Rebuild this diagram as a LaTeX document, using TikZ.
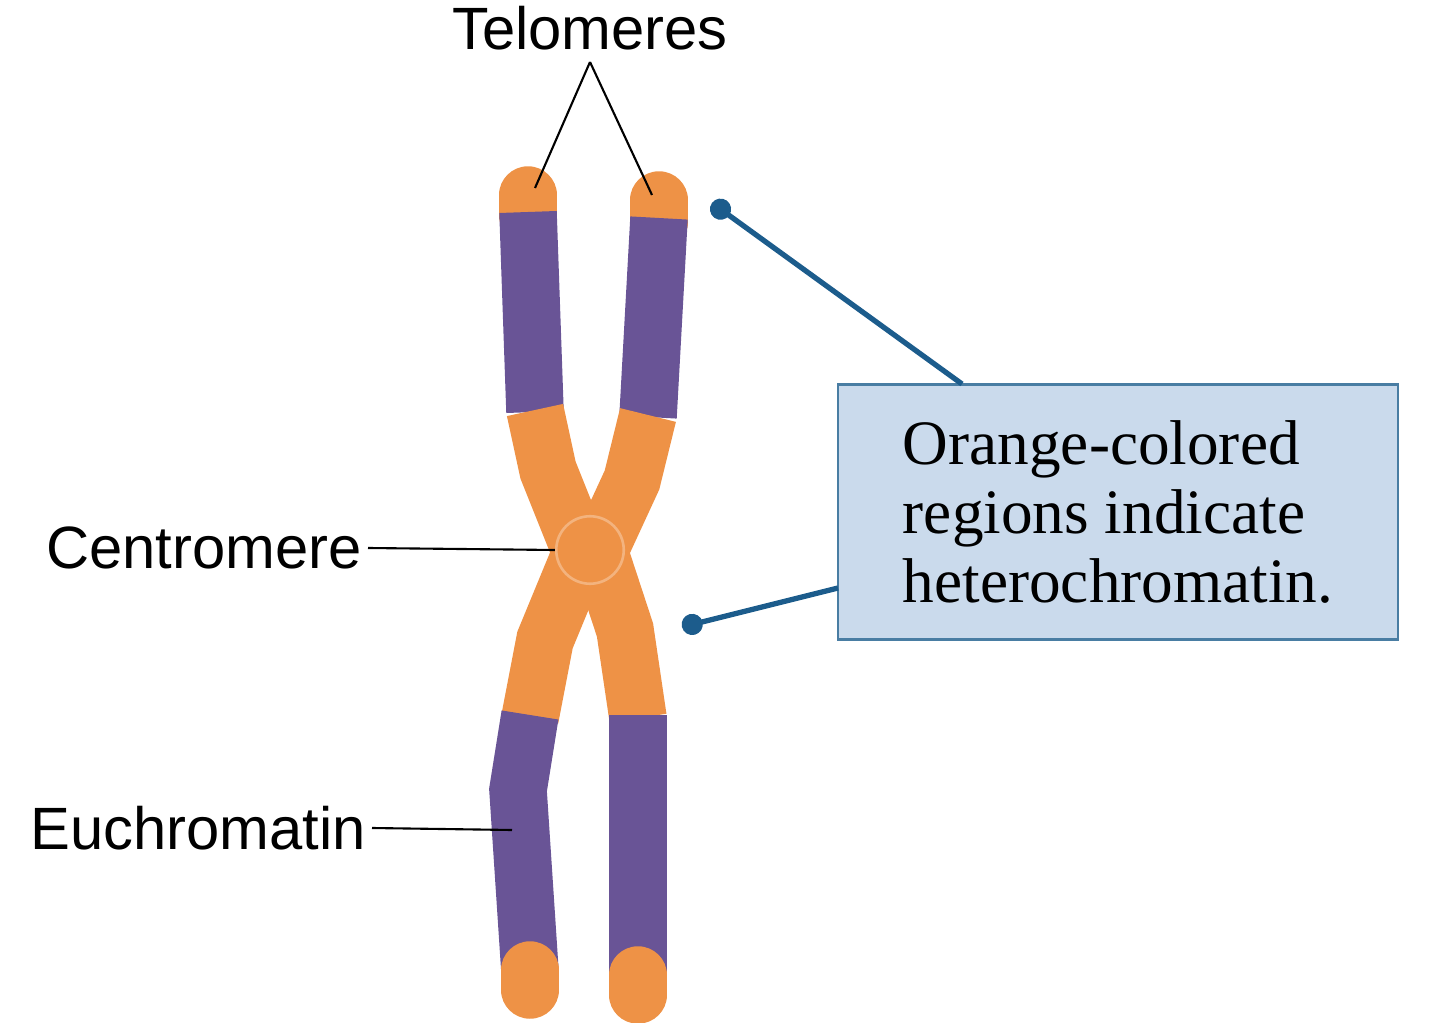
\documentclass[tikz,border=0pt]{standalone}
\usepackage{fontspec}
\setmainfont{Liberation Serif}
\setsansfont{Liberation Sans}
\definecolor{chromorange}{RGB}{238,146,70}
\definecolor{chrompurple}{RGB}{105,84,150}
\definecolor{boxfill}{RGB}{202,218,236}
\definecolor{pointer}{RGB}{28,92,140}
\tikzset{
  label/.style={font=\sffamily\fontsize{34}{40}\selectfont},
  arm/.style={line width=1.15cm},
  tick/.style={draw=black,line width=1.2pt},
  pointerline/.style={draw=pointer,line width=3pt,-{Circle[length=12pt]}}
}
\usetikzlibrary{arrows.meta}
\begin{document}
\begin{tikzpicture}[x=0.02cm,y=-0.02cm]
  \useasboundingbox (0,0) rectangle (1440,1023);
  % upper left arm
  \draw[arm,chromorange,line cap=round] (528,195) -- (528,215);
  \draw[arm,chrompurple] (528,212) -- (535,412);
  \draw[arm,chromorange] (535,410) -- (548,470) -- (578,545);
  % upper right arm
  \draw[arm,chromorange,line cap=round] (659,200) -- (659,222);
  \draw[arm,chrompurple] (659,218) -- (648,417);
  \draw[arm,chromorange] (648,415) -- (632,480) -- (602,545);
  % lower left arm
  \draw[arm,chromorange] (578,560) -- (545,640) -- (530,718);
  \draw[arm,chrompurple] (530,715) -- (518,790) -- (530,972);
  \draw[arm,chromorange,line cap=round] (530,970) -- (530,990);
  % lower right arm
  \draw[arm,chromorange] (602,560) -- (625,630) -- (638,718);
  \draw[arm,chrompurple] (638,715) -- (638,977);
  \draw[arm,chromorange,line cap=round] (638,975) -- (638,995);
  % centromere
  \node[circle,fill=chromorange,draw=chromorange!70!white,line width=1.5pt,minimum size=1.35cm] (centro) at (590,550) {};

  \node[label] (telo) at (590,28) {Telomeres};
  \coordinate (teloL) at (535,188);
  \coordinate (teloR) at (652,195);
  \draw[tick] (590,62) -- (teloL);
  \draw[tick] (590,62) -- (teloR);

  \node[label,anchor=east] (cen) at (368,548) {Centromere};
  \draw[tick] (cen.east) -- (centro.west);

  \node[label,anchor=east] (eu) at (372,828) {Euchromatin};
  \coordinate (euPt) at (512,830);
  \draw[tick] (eu.east) -- (euPt);

  \node[draw=pointer!80!white,line width=1.5pt,fill=boxfill,minimum width=11.2cm,minimum height=5.1cm,
        align=left,font=\fontsize{36}{39}\selectfont,inner sep=0pt] (note) at (1118,512)
        {Orange-colored\\regions indicate\\heterochromatin.};
  \coordinate (topTip) at (712,203);
  \coordinate (sideTip) at (682,627);
  \draw[pointerline] (962,384) -- (topTip);
  \draw[pointerline] (838,588) -- (sideTip);
\end{tikzpicture}
\end{document}
